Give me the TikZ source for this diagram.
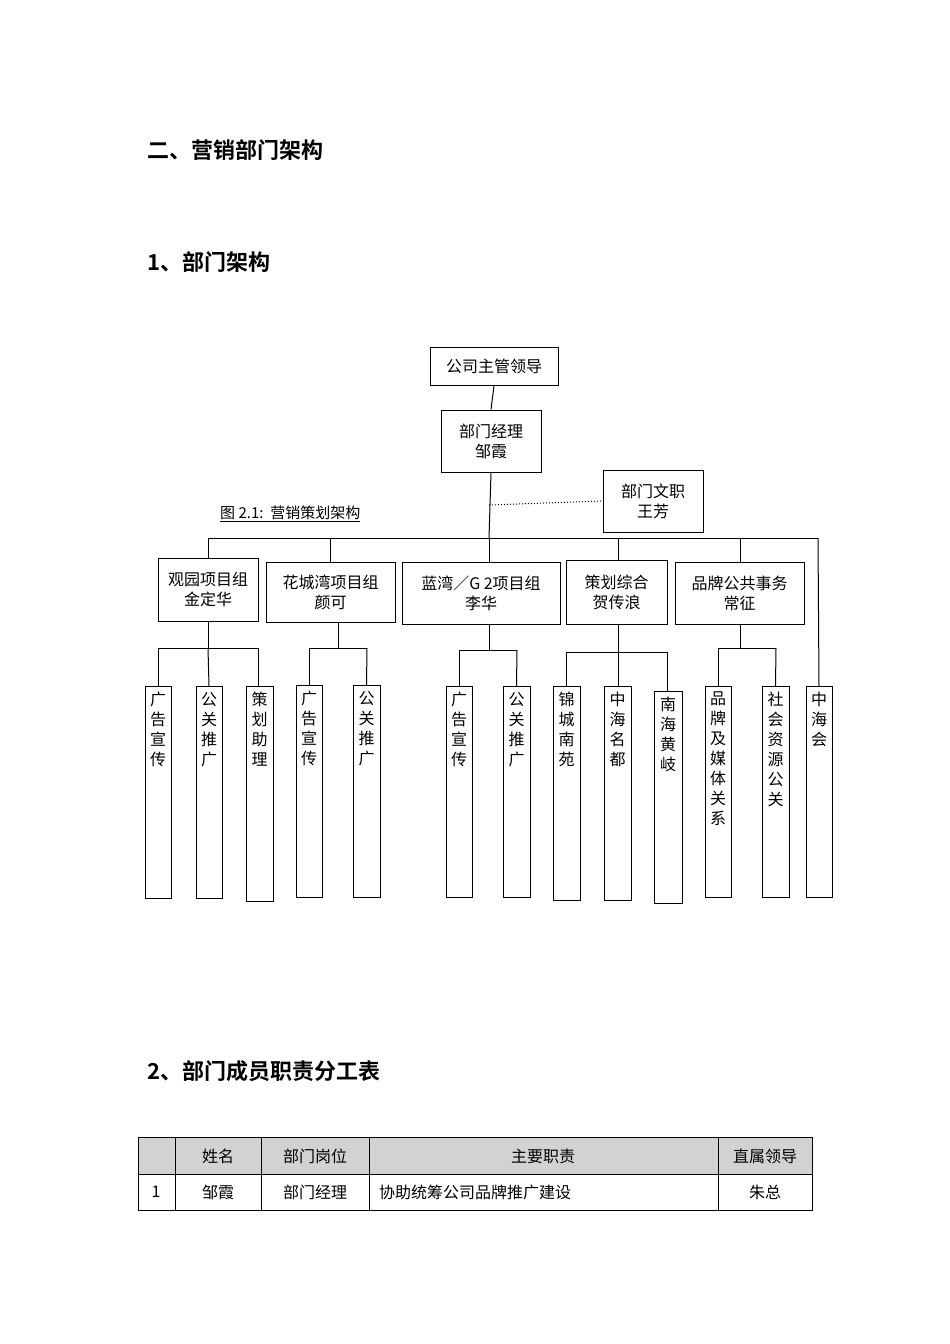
\documentclass[tikz,border=0pt]{standalone}
\usepackage{fontspec}
\setmainfont{Liberation Serif}
\newfontfamily\cjk{Noto Sans CJK SC}
\newfontfamily\cjkb{Noto Sans CJK SC Bold}
\begin{document}
\begin{tikzpicture}[x=1pt,y=-1pt,
  bx/.style={draw,line width=1pt,inner sep=0pt,font=\cjk\fontsize{16}{20}\selectfont,align=center},
  vb/.style={draw,line width=1pt,inner sep=0pt,font=\cjk\fontsize{16}{20}\selectfont,align=center},
  ln/.style={line width=1pt},
  hd/.style={anchor=west,font=\cjkb\fontsize{22}{26}\selectfont,inner sep=0pt}]
\useasboundingbox (0,0) rectangle (950,1344);
\node[hd] at (147,150) {二、营销部门架构};
\node[hd] at (147,262) {1、部门架构};
\node[hd] at (147,1071) {2、部门成员职责分工表};

\newcommand\bxat[6]{\node[bx,minimum width=#4-#2,minimum height=#5-#3] (#1) at ({(#2+#4)/2},{(#3+#5)/2}) {#6};}
\newcommand\vbat[6]{\node[vb,anchor=north,minimum width=#4-#2,minimum height=#5-#3,text width=#4-#2,align=center] (#1) at ({(#2+#4)/2},#3) {};
 \node[font=\cjk\fontsize{16}{20}\selectfont,anchor=north,align=center,text width=20pt,inner sep=0pt] at ({(#2+#4)/2},#3+6) {#6};}

\bxat{top}{430}{347}{558}{385}{公司主管领导}
\bxat{mgr}{441}{410}{541}{472}{部门经理\\邹霞}
\bxat{sec}{603}{470}{703}{532}{部门文职\\王芳}
\node[anchor=west,inner sep=1pt,font=\cjk\fontsize{15}{18}\selectfont] (cap) at (219,514) {\underline{图 2.1:\ \ 营销策划架构}};

\bxat{g1}{158}{558}{258}{621}{观园项目组\\金定华}
\bxat{g2}{266}{562}{395}{622}{花城湾项目组\\颜可}
\bxat{g3}{402}{562}{560}{624}{蓝湾／G 2项目组\\李华}
\bxat{g4}{566}{560}{667}{624}{策划综合\\贺传浪}
\bxat{g5}{675}{562}{804}{624}{品牌公共事务\\常征}

\vbat{a1}{145}{686}{171}{898}{广\\告\\宣\\传}
\vbat{a2}{196}{686}{222}{898}{公\\关\\推\\广}
\vbat{a3}{246}{686}{273}{901}{策\\划\\助\\理}
\vbat{b1}{296}{685}{322}{897}{广\\告\\宣\\传}
\vbat{b2}{353}{685}{380}{897}{公\\关\\推\\广}
\vbat{c1}{446}{686}{472}{897}{广\\告\\宣\\传}
\vbat{c2}{503}{686}{530}{897}{公\\关\\推\\广}
\vbat{d1}{553}{686}{580}{900}{锦\\城\\南\\苑}
\vbat{d2}{604}{686}{631}{900}{中\\海\\名\\都}
\vbat{d3}{654}{691}{682}{903}{南\\海\\黄\\岐}
\vbat{e1}{705}{686}{731}{897}{品\\牌\\及\\媒\\体\\关\\系}
\vbat{e2}{762}{686}{789}{897}{社\\会\\资\\源\\公\\关}
\vbat{f1}{806}{686}{832}{897}{中\\海\\会}

\draw[ln] (top.south) -- (mgr.north);
\draw[ln] (mgr.south) -- (489,538);
\draw[ln,dotted] (489,505) -- (sec.west);
\draw[ln] (208,538) -- (818,538);
\draw[ln] (208,538) -- (g1.north);
\draw[ln] (330,538) -- (330,562);
\draw[ln] (489,538) -- (489,562);
\draw[ln] (618,538) -- (618,560);
\draw[ln] (740,538) -- (740,562);
\draw[ln] (818,538) -- (f1.north);
% level 3
\draw[ln] (g1.south) -- (208,648); \draw[ln] (158,648) -- (258,648);
\draw[ln] (158,648) -- (158,686); \draw[ln] (208,648) -- (a2.north); \draw[ln] (258,648) -- (258,686);
\draw[ln] (338,622) -- (338,648); \draw[ln] (309,648) -- (367,648);
\draw[ln] (309,648) -- (b1.north); \draw[ln] (367,648) -- (b2.north);
\draw[ln] (489,624) -- (489,650); \draw[ln] (459,650) -- (517,650);
\draw[ln] (459,650) -- (c1.north); \draw[ln] (517,650) -- (c2.north);
\draw[ln] (618,624) -- (618,652); \draw[ln] (566,652) -- (667,652);
\draw[ln] (566,652) -- (566,686); \draw[ln] (618,652) -- (618,686); \draw[ln] (667,652) -- (667,691);
\draw[ln] (740,624) -- (740,648); \draw[ln] (718,648) -- (776,648);
\draw[ln] (718,648) -- (e1.north); \draw[ln] (776,648) -- (e2.north);

% table
\fill[gray!35] (138,1137) rectangle (812,1174);
\draw[line width=0.8pt] (138,1137) rectangle (812,1210);
\draw[line width=0.8pt] (138,1174) -- (812,1174);
\foreach \x in {175,261,369,718} \draw[line width=0.8pt] (\x,1137) -- (\x,1210);
\begin{scope}[every node/.style={font=\cjk\fontsize{16}{20}\selectfont,inner sep=0pt}]
\node at (218,1156) {姓名};
\node at (315,1156) {部门岗位};
\node at (543,1156) {主要职责};
\node at (765,1156) {直属领导};
\node at (156,1192) {1};
\node at (218,1192) {邹霞};
\node at (315,1192) {部门经理};
\node[anchor=west] at (379,1192) {协助统筹公司品牌推广建设};
\node at (765,1192) {朱总};
\end{scope}
\end{tikzpicture}
\end{document}
